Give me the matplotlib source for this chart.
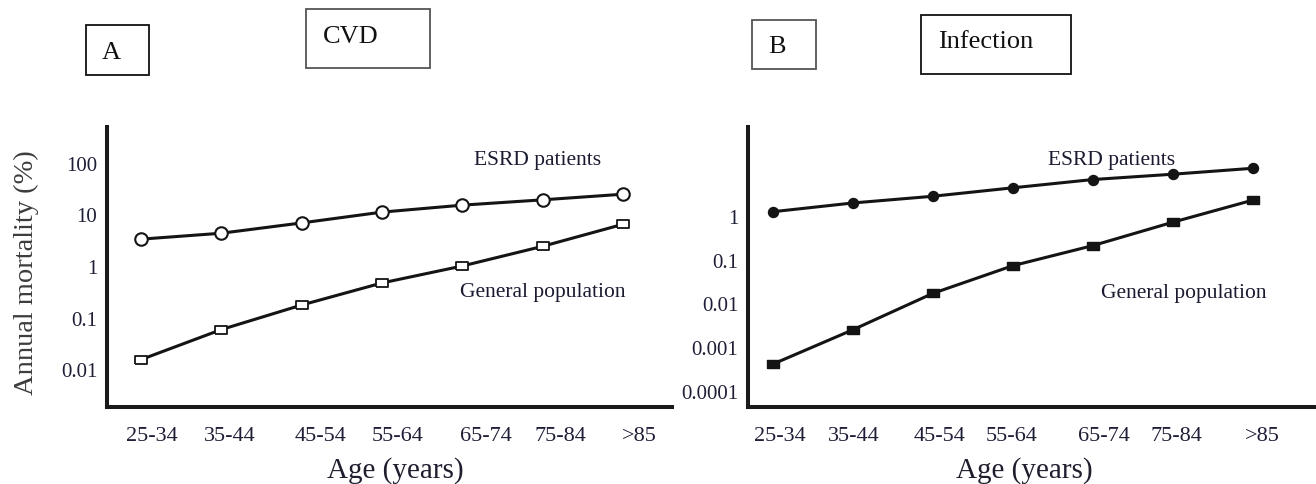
import numpy as np
import matplotlib.pyplot as plt
from matplotlib.patches import Rectangle

plt.rcParams['font.family'] = ['Liberation Serif', 'DejaVu Serif']

ages = ['25-34', '35-44', '45-54', '55-64', '65-74', '75-84', '>85']

# panel A: CVD annual mortality (%)
cvd_esrd = [3.3, 4.3, 6.8, 11, 15, 19, 24.4]
cvd_general = [0.0155, 0.059, 0.176, 0.47, 1.0, 2.4, 6.4]

# panel B: infection annual mortality (%)
inf_esrd = [1.25, 1.98, 2.82, 4.4, 6.8, 9.0, 12.3]
inf_general = [0.00041, 0.0025, 0.017, 0.073, 0.21, 0.72, 2.3]

ticks_a = [0.01, 0.1, 1, 10, 100]
ticks_b = [0.0001, 0.001, 0.01, 0.1, 1]

# labels in the original sit a bit right of the points
nudge_a = [0.14, 0.10, 0.24, 0.19, 0.30, 0.22, 0.20]
nudge_b = [0.09, 0.01, 0.09, -0.02, 0.14, 0.05, 0.125]

W, H = 1316, 485
fig = plt.figure(figsize=(W / 100, H / 100), dpi=100)

rect = [(-1, -0.6), (1, -0.6), (1, 0.6), (-1, 0.6), (-1, -0.6)]
ink = '#141414'
tick_col = '#1e1e36'


def style(ax, ylim, xlim, yt, nudge):
    ax.set_yscale('log')
    ax.set_ylim(*ylim)
    ax.set_xlim(*xlim)
    for s in ['top', 'right']:
        ax.spines[s].set_visible(False)
    for s in ['left', 'bottom']:
        ax.spines[s].set_linewidth(2.9)
        ax.spines[s].set_color('#1a1a1a')
    ax.set_yticks(yt)
    ax.set_yticklabels([f'{t:g}' if t >= 0.001 else '0.0001' for t in yt])
    ax.minorticks_off()
    x = np.arange(len(ages))
    ax.set_xticks(x + np.array(nudge))
    ax.set_xticklabels(ages)
    ax.tick_params(axis='y', length=0, pad=7, labelsize=15, labelcolor=tick_col)
    ax.tick_params(axis='x', length=0, pad=14, labelsize=16, labelcolor=tick_col)
    ax.set_xlabel('Age (years)', fontsize=21, color='#1e1e2e')
    ax.xaxis.label.set_va('center')


# panel A
axA = fig.add_axes([107 / W, 1 - 408 / H, 565 / W, 280 / H])
x = np.arange(len(ages))
axA.plot(x, cvd_esrd, color=ink, lw=2.2, marker='o', ms=9, mfc='white',
         mec=ink, mew=1.5, zorder=3)
axA.plot(x, cvd_general, color=ink, lw=2.2, marker=rect, ms=9, mfc='white',
         mec=ink, mew=1.3, zorder=3)
style(axA, (0.00188, 486), (-0.423, 6.61), ticks_a, nudge_a)
axA.xaxis.set_label_coords(0.51, -0.222)
axA.set_ylabel('Annual mortality (%)', fontsize=20.5, color='#3c3c3c')
axA.yaxis.label.set_va('center')
axA.yaxis.set_label_coords(-0.142, 0.482)
axA.text(4.15, 93.5, 'ESRD patients', fontsize=15.5, color='#1a1a30', va='baseline')
axA.text(3.97, 0.267, 'General population', fontsize=15.5, color='#1a1a30', va='baseline')

# panel B
axB = fig.add_axes([748 / W, 1 - 408 / H, 568 / W, 280 / H])
axB.plot(x, inf_esrd, color=ink, lw=2.2, marker='o', ms=7.2, mfc=ink,
         mec=ink, zorder=3)
axB.plot(x, inf_general, color=ink, lw=2.2, marker=rect, ms=9, mfc=ink,
         mec=ink, zorder=3)
style(axB, (4.3e-5, 108), (-0.31, 6.79), ticks_b, nudge_b)
axB.xaxis.set_label_coords(0.487, -0.222)
axB.text(3.44, 15.4, 'ESRD patients', fontsize=15.5, color='#1a1a30', va='baseline')
axB.text(4.1, 0.0141, 'General population', fontsize=15.5, color='#1a1a30', va='baseline')

# boxed panel tags (pixel positions from the original)
boxes = [
    ((85.7, 26, 149.3, 76), 'A', (111.7, 59.3), 'center', '#111111'),
    ((306, 10, 430, 69), 'CVD', (323, 42.7), 'left', '#555555'),
    ((751.7, 20.7, 815.7, 70), 'B', (776.5, 53.3), 'center', '#555555'),
    ((921, 15.7, 1070.7, 75.3), 'Infection', (937.7, 48.3), 'left', '#111111'),
]
for (x0, y0, x1, y1), lab, (tx, ty), ha, ec in boxes:
    fig.add_artist(Rectangle((x0 / W, 1 - y1 / H), (x1 - x0) / W, (y1 - y0) / H,
                             transform=fig.transFigure, fill=False,
                             edgecolor=ec, linewidth=1.3))
    fig.text(tx / W, 1 - ty / H, lab, fontsize=19, color='#111111',
             ha=ha, va='baseline')

fig.savefig('out.png', dpi=100)
